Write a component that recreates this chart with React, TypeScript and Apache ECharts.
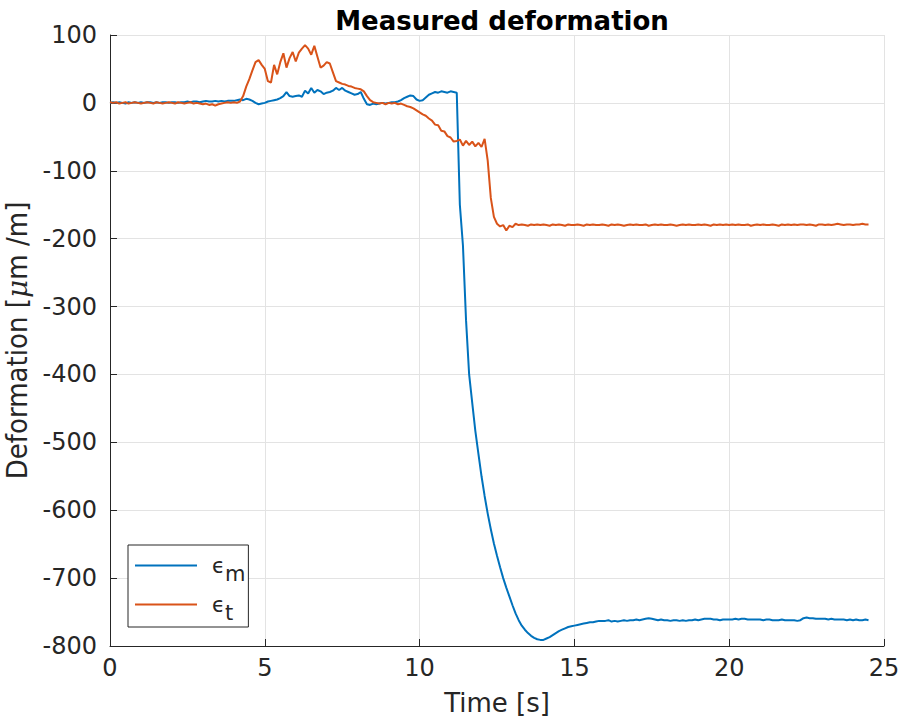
import React, { useEffect, useRef } from "react";
import * as echarts from "echarts";

// Sampling instants (s), every 0.1 s from 0 to 24.5
const TIME: number[] = Array.from({ length: 246 }, (_, i) => Math.round(i) / 10);

// epsilon_m (blue)
const EPS_M: number[] = [
  0, 1, 0, 1, 0, -1, 1, 0, 1, 0,
  1, 0, 1, 1, 0, 1, 0, 1, 1, 0,
  1, 1, 0, 1, 1, 2, 1, 2, 2, 1,
  2, 3, 2, 2, 3, 2, 3, 2, 3, 3,
  3, 4, 5, 4, 6, 5, 3, 0, -2, -1,
  0, 2, 3, 4, 5, 7, 10, 16, 10, 9,
  10, 11, 9, 18, 14, 22, 15, 19, 17, 13,
  15, 16, 18, 22, 19, 22, 18, 16, 14, 12,
  13, 16, 6, -2, -3, -1, -2, -1, 0, -1,
  0, 1, 1, 2, 4, 7, 9, 11, 10, 5,
  3, 4, 8, 12, 14, 16, 15, 17, 16, 15,
  17, 16, 15, -150, -210, -320, -400, -442, -483, -517,
  -550, -579, -605, -628, -649, -667, -684, -700, -714, -727,
  -740, -752, -762, -770, -776, -781, -785, -788, -790, -791,
  -791, -789, -787, -784, -781, -778, -776, -774, -772, -771,
  -770, -769, -768, -767, -766, -765, -765, -764, -763, -763,
  -763, -762, -764, -763, -764, -763, -762, -763, -762, -762,
  -761, -762, -761, -760, -759, -760, -761, -762, -761, -762,
  -762, -763, -762, -762, -763, -762, -763, -762, -762, -761,
  -762, -761, -760, -760, -760, -761, -761, -762, -761, -761,
  -761, -761, -760, -761, -760, -760, -761, -761, -761, -761,
  -761, -762, -761, -761, -762, -762, -762, -761, -762, -762,
  -762, -762, -763, -762, -759, -758, -759, -759, -760, -760,
  -760, -760, -761, -760, -761, -761, -761, -761, -762, -761,
  -762, -761, -762, -762, -761, -762,
];

// epsilon_t (orange)
const EPS_T: number[] = [
  1, 0, 1, -1, 0, 1, -1, 0, 1, 0,
  -1, 0, 1, 0, -1, 1, 0, -1, 0, 1,
  0, -1, 1, 0, -1, 0, 1, -1, 0, -1,
  -2, -1, -3, -2, -4, -2, -1, 0, 1, 0,
  1, 0, 2, 10, 24, 35, 48, 60, 63, 56,
  50, 32, 30, 56, 42, 60, 73, 52, 66, 75,
  61, 74, 80, 85, 80, 71, 84, 68, 52, 55,
  60, 58, 45, 32, 30, 28, 27, 25, 24, 22,
  21, 20, 17, 10, 4, 1, 0, -1, 0, -2,
  0, -1, 0, -2, -1, -3, -5, -6, -8, -11,
  -14, -17, -19, -23, -26, -32, -33, -41, -42, -49,
  -51, -57, -56, -54, -63, -56, -62, -57, -64, -59,
  -65, -53, -85, -140, -168, -178, -182, -180, -188, -181,
  -183, -178, -180, -179, -180, -181, -179, -180, -179, -180,
  -179, -180, -181, -179, -180, -179, -180, -181, -179, -180,
  -180, -179, -180, -181, -179, -180, -179, -180, -180, -179,
  -180, -181, -179, -180, -179, -180, -181, -180, -179, -180,
  -179, -180, -180, -179, -181, -180, -179, -180, -179, -180,
  -180, -179, -180, -181, -180, -179, -180, -179, -180, -180,
  -179, -180, -179, -180, -181, -179, -180, -179, -180, -179,
  -180, -179, -180, -179, -180, -180, -179, -181, -180, -179,
  -180, -179, -180, -180, -179, -180, -181, -179, -180, -179,
  -180, -179, -180, -179, -179, -180, -179, -180, -181, -179,
  -179, -180, -179, -180, -179, -178, -179, -180, -179, -179,
  -180, -179, -179, -178, -179, -179,
];

const SERIES_NAMES = ["em", "et"];
const LEGEND_SUB: Record<string, string> = { em: "m", et: "t" };
const X_TICKS = { min: 0, max: 25, interval: 5 };
const Y_TICKS = { min: -800, max: 100, interval: 100 };

const TEXT = "#262626";
const FONT = "DejaVu Sans";
const COND = "'DejaVu Sans Condensed', 'DejaVu Sans'";

export default function App() {
  const ref = useRef<HTMLDivElement>(null);
  useEffect(() => {
    if (!ref.current) return;
    const chart = echarts.init(ref.current, undefined, { renderer: "svg" });
    const toPairs = (v: number[]) => v.map((y, i) => [TIME[i], y]);
    chart.setOption({
      animation: false,
      backgroundColor: "#ffffff",
      title: {
        text: "Measured deformation",
        left: 497,
        top: 3,
        textAlign: "center",
        textStyle: { fontFamily: FONT, fontWeight: "bold", fontSize: 26, color: "#000" },
      },
      grid: {
        left: 110,
        top: 35,
        right: 19,
        bottom: 76,
        containLabel: false,
        outerBoundsMode: "none",
      },
      xAxis: {
        type: "value",
        ...X_TICKS,
        name: "Time [s]",
        nameLocation: "middle",
        nameGap: 44,
        nameTextStyle: { fontFamily: FONT, fontSize: 26, color: TEXT },
        axisLine: { show: true, onZero: false, lineStyle: { color: TEXT, width: 1 } },
        axisTick: { show: true, inside: true, length: 7, lineStyle: { color: TEXT } },
        axisLabel: { fontFamily: FONT, fontSize: 24, color: TEXT, margin: 10 },
        splitLine: { show: true, lineStyle: { color: "#e3e3e3", width: 1 } },
      },
      yAxis: {
        type: "value",
        ...Y_TICKS,
        name: "{a|Deformation [}{mu|μ}{a|m /m]}",
        nameLocation: "middle",
        nameGap: 69,
        nameRotate: 90,
        nameTextStyle: {
          fontFamily: COND,
          fontSize: 29,
          color: TEXT,
          rich: {
            a: { fontFamily: COND, fontSize: 29, color: TEXT },
            mu: { fontFamily: "DejaVu Serif", fontStyle: "italic", fontSize: 28, color: TEXT },
          },
        },
        axisLine: { show: true, onZero: false, lineStyle: { color: TEXT, width: 1 } },
        axisTick: { show: true, inside: true, length: 7, lineStyle: { color: TEXT } },
        axisLabel: { fontFamily: FONT, fontSize: 24, color: TEXT, margin: 13 },
        splitLine: { show: true, lineStyle: { color: "#e3e3e3", width: 1 } },
      },
      legend: {
        orient: "vertical",
        left: 128,
        top: 545,
        icon: "rect",
        itemWidth: 62,
        itemHeight: 2,
        itemGap: 2,
        padding: [2, 3, 4, 7],
        borderColor: TEXT,
        borderWidth: 1,
        backgroundColor: "#fff",
        data: SERIES_NAMES,
        formatter: (name: string) => `{e|ϵ}{s|${LEGEND_SUB[name]}}`,
        textStyle: {
          color: TEXT,
          rich: {
            e: { fontFamily: FONT, fontSize: 21, color: TEXT, padding: [0, 0, 0, 10], lineHeight: 24 },
            s: { fontFamily: FONT, fontSize: 21, color: TEXT, padding: [16, 0, 0, 0], lineHeight: 24 },
          },
        },
      },
      series: [
        {
          name: "em",
          type: "line",
          data: toPairs(EPS_M),
          showSymbol: false,
          symbol: "none",
          lineStyle: { color: "#0072BD", width: 2 },
          itemStyle: { color: "#0072BD" },
          z: 3,
        },
        {
          name: "et",
          type: "line",
          data: toPairs(EPS_T),
          showSymbol: false,
          symbol: "none",
          lineStyle: { color: "#D95319", width: 2 },
          itemStyle: { color: "#D95319" },
          z: 4,
        },
      ],
    });
    return () => chart.dispose();
  }, []);
  return (
    <div
      ref={ref}
      style={{ position: "fixed", left: 0, top: 0, width: 903, height: 722 }}
    />
  );
}
